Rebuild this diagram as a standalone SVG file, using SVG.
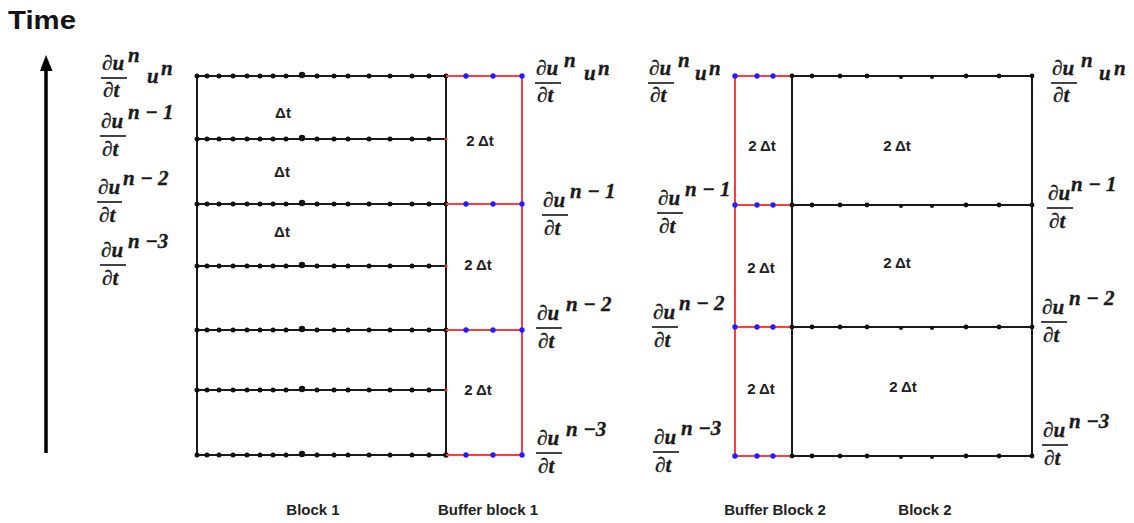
<svg xmlns="http://www.w3.org/2000/svg" width="1134" height="523" viewBox="0 0 1134 523">
<style>
.ln{stroke:#1a1a1a;stroke-width:2;fill:none}
.rd{stroke:#ff3b3b;stroke-width:2;fill:none}
.d{fill:#111}
.bd{fill:#1f1fff}
.m{font-family:"Liberation Serif","DejaVu Serif",serif;font-weight:bold;font-style:italic;font-size:21px;fill:#1a1a1a;stroke:#1a1a1a;stroke-width:0.35}
.bar{stroke:#222;stroke-width:1.7}
.t{font-family:"Liberation Sans",Arial,sans-serif;font-weight:bold;font-size:15px;fill:#222;text-anchor:middle}
.b{font-family:"Liberation Sans",Arial,sans-serif;font-weight:bold;font-size:15px;fill:#222;text-anchor:middle}
</style>
<rect width="1134" height="523" fill="#fff"/>

<g id="time-axis">
<text x="8" y="29" font-family="Liberation Sans, Arial, sans-serif" font-weight="bold" font-size="25" fill="#141414" textLength="68" lengthAdjust="spacingAndGlyphs">Time</text>
</g>

<g id="connectors">
<line x1="46" y1="68" x2="46" y2="453" stroke="#000" stroke-width="3.5"/>
<polygon points="46,55 40,71 52.5,71" fill="#000"/>
</g>

<g id="block1">
<line class="ln" x1="197" y1="76" x2="197" y2="455"/>
<line class="ln" x1="446" y1="76" x2="446" y2="455"/>
<g class="ln">
<line x1="197" y1="76" x2="446" y2="76"/>
<line x1="197" y1="139" x2="446" y2="139"/>
<line x1="197" y1="204" x2="446" y2="204"/>
<line x1="197" y1="266" x2="446" y2="266"/>
<line x1="197" y1="330" x2="446" y2="330"/>
<line x1="197" y1="390" x2="446" y2="390"/>
<line x1="197" y1="455" x2="446" y2="455"/>
</g>
<defs>
<g id="row1">
<circle cx="197" cy="0" r="2.5"/><circle cx="207" cy="0" r="2.5"/><circle cx="219" cy="0" r="2.5"/><circle cx="233" cy="0" r="2.5"/><circle cx="247" cy="0" r="2.5"/><circle cx="260" cy="0" r="2.5"/><circle cx="273" cy="0" r="2.5"/><circle cx="286" cy="0" r="2.5"/><circle cx="302" cy="-1" r="3.2"/><circle cx="317" cy="0" r="2.5"/><circle cx="334" cy="0" r="2.5"/><circle cx="348" cy="0" r="2.5"/><circle cx="369" cy="0" r="2.5"/><circle cx="390" cy="0" r="2.5"/><circle cx="412" cy="0" r="2.5"/><circle cx="429" cy="0" r="2.5"/>
</g>
<g id="row2">
<circle cx="792" cy="0" r="2.4"/><circle cx="812" cy="0" r="2.4"/><circle cx="840" cy="0" r="2.4"/><circle cx="867" cy="0" r="2.4"/><circle cx="901" cy="1" r="2"/><circle cx="932" cy="1" r="2"/><circle cx="966" cy="0" r="2.4"/><circle cx="999" cy="0" r="2.4"/><circle cx="1032" cy="0" r="2.4"/>
</g>
<g id="blue1"><circle cx="466" cy="0" r="2.7"/><circle cx="493" cy="0" r="2.7"/><circle cx="522" cy="0" r="2.7"/></g>
<g id="blue2"><circle cx="735" cy="0" r="2.7"/><circle cx="757" cy="0" r="2.7"/><circle cx="773" cy="0" r="2.7"/></g>
</defs>
<g class="d">
<use href="#row1" y="76"/><use href="#row1" y="139"/><use href="#row1" y="204"/><use href="#row1" y="266"/><use href="#row1" y="330"/><use href="#row1" y="390"/><use href="#row1" y="455"/>
<circle cx="446" cy="76" r="2.4"/><circle cx="446" cy="204" r="2.4"/><circle cx="446" cy="330" r="2.4"/><circle cx="446" cy="455" r="2.7"/>
</g>
<g fill="#e03030"><circle cx="446" cy="139" r="1.6"/><circle cx="446" cy="266" r="1.6"/><circle cx="446" cy="390" r="1.6"/></g>
<text class="t" x="283" y="118">Δt</text>
<text class="t" x="282" y="177">Δt</text>
<text class="t" x="282" y="237">Δt</text>
</g>

<g id="buffer1">
<line class="rd" x1="446" y1="76" x2="522" y2="76"/>
<line class="rd" x1="446" y1="204" x2="522" y2="204"/>
<line class="rd" x1="446" y1="330" x2="522" y2="330"/>
<line class="rd" x1="446" y1="455" x2="522" y2="455"/>
<line class="rd" x1="522" y1="76" x2="522" y2="455"/>
<g class="bd"><use href="#blue1" y="76"/><use href="#blue1" y="204"/><use href="#blue1" y="330"/><use href="#blue1" y="455"/></g>
<text class="t" x="480" y="146">2 Δt</text>
<text class="t" x="478" y="270">2 Δt</text>
<text class="t" x="478" y="395">2 Δt</text>
</g>

<g id="buffer2">
<line class="rd" x1="735" y1="76" x2="735" y2="456"/>
<line class="rd" x1="735" y1="76" x2="792" y2="76"/>
<line class="rd" x1="735" y1="205" x2="792" y2="205"/>
<line class="rd" x1="735" y1="327" x2="792" y2="327"/>
<line class="rd" x1="735" y1="456" x2="792" y2="456"/>
<g class="bd"><use href="#blue2" y="76"/><use href="#blue2" y="205"/><use href="#blue2" y="327"/><use href="#blue2" y="456"/></g>
<text class="t" x="762" y="151">2 Δt</text>
<text class="t" x="761" y="273">2 Δt</text>
<text class="t" x="761" y="394">2 Δt</text>
</g>

<g id="block2">
<line class="ln" x1="792" y1="76" x2="792" y2="456"/>
<line class="ln" x1="1032" y1="76" x2="1032" y2="456"/>
<line class="ln" x1="792" y1="76" x2="1032" y2="76"/>
<line class="ln" x1="792" y1="205" x2="1032" y2="205"/>
<line class="ln" x1="792" y1="327" x2="1032" y2="327"/>
<line class="ln" x1="792" y1="456" x2="1032" y2="456"/>
<g class="d"><use href="#row2" y="76"/><use href="#row2" y="205"/><use href="#row2" y="327"/><use href="#row2" y="456"/></g>
<text class="t" x="897" y="151">2 Δt</text>
<text class="t" x="897" y="268">2 Δt</text>
<text class="t" x="903" y="392">2 Δt</text>
</g>

<g id="labels-left">
<g transform="translate(101,78)"><text class="m" x="1" y="-8">∂u</text><text class="m" x="27" y="-16">n</text><line class="bar" x1="0" y1="0" x2="26" y2="0"/><text class="m" x="2" y="19">∂t</text><text class="m" x="46" y="5">u</text><text class="m" x="60" y="-3">n</text></g>
<g transform="translate(100,136)"><text class="m" x="1" y="-8">∂u</text><text class="m" x="28" y="-17">n − 1</text><line class="bar" x1="0" y1="0" x2="26" y2="0"/><text class="m" x="2" y="20">∂t</text></g>
<g transform="translate(97,202)"><text class="m" x="1" y="-8">∂u</text><text class="m" x="26" y="-17">n − 2</text><line class="bar" x1="0" y1="0" x2="25" y2="0"/><text class="m" x="2" y="20">∂t</text></g>
<g transform="translate(100,265)"><text class="m" x="1" y="-8">∂u</text><text class="m" x="28" y="-17">n −3</text><line class="bar" x1="0" y1="0" x2="26" y2="0"/><text class="m" x="2" y="20">∂t</text></g>
</g>

<g id="labels-buffer1">
<g transform="translate(535,83)"><text class="m" x="1" y="-8">∂u</text><text class="m" x="29" y="-16">n</text><line class="bar" x1="0" y1="0" x2="26" y2="0"/><text class="m" x="2" y="19">∂t</text><text class="m" x="49" y="-3">u</text><text class="m" x="63" y="-8">n</text></g>
<g transform="translate(542,215)"><text class="m" x="1" y="-8">∂u</text><text class="m" x="28" y="-17">n − 1</text><line class="bar" x1="0" y1="0" x2="26" y2="0"/><text class="m" x="2" y="20">∂t</text></g>
<g transform="translate(536,328)"><text class="m" x="1" y="-8">∂u</text><text class="m" x="30" y="-17">n − 2</text><line class="bar" x1="0" y1="0" x2="26" y2="0"/><text class="m" x="2" y="20">∂t</text></g>
<g transform="translate(536,453)"><text class="m" x="1" y="-8">∂u</text><text class="m" x="30" y="-17">n −3</text><line class="bar" x1="0" y1="0" x2="26" y2="0"/><text class="m" x="2" y="20">∂t</text></g>
</g>

<g id="labels-buffer2">
<g transform="translate(648,83)"><text class="m" x="1" y="-8">∂u</text><text class="m" x="30" y="-16">n</text><line class="bar" x1="0" y1="0" x2="26" y2="0"/><text class="m" x="2" y="19">∂t</text><text class="m" x="47" y="-3">u</text><text class="m" x="61" y="-8">n</text></g>
<g transform="translate(657,213)"><text class="m" x="1" y="-8">∂u</text><text class="m" x="28" y="-17">n − 1</text><line class="bar" x1="0" y1="0" x2="26" y2="0"/><text class="m" x="2" y="20">∂t</text></g>
<g transform="translate(652,327)"><text class="m" x="1" y="-8">∂u</text><text class="m" x="27" y="-17">n − 2</text><line class="bar" x1="0" y1="0" x2="26" y2="0"/><text class="m" x="2" y="20">∂t</text></g>
<g transform="translate(653,452)"><text class="m" x="1" y="-8">∂u</text><text class="m" x="28" y="-17">n −3</text><line class="bar" x1="0" y1="0" x2="26" y2="0"/><text class="m" x="2" y="20">∂t</text></g>
</g>

<g id="labels-block2">
<g transform="translate(1051,83)"><text class="m" x="1" y="-8">∂u</text><text class="m" x="30" y="-16">n</text><line class="bar" x1="0" y1="0" x2="26" y2="0"/><text class="m" x="2" y="19">∂t</text><text class="m" x="48" y="-3">u</text><text class="m" x="63" y="-8">n</text></g>
<g transform="translate(1047,208)"><text class="m" x="1" y="-8">∂u</text><text class="m" x="24" y="-17">n − 1</text><line class="bar" x1="0" y1="0" x2="26" y2="0"/><text class="m" x="2" y="20">∂t</text></g>
<g transform="translate(1041,322)"><text class="m" x="1" y="-8">∂u</text><text class="m" x="28" y="-17">n − 2</text><line class="bar" x1="0" y1="0" x2="26" y2="0"/><text class="m" x="2" y="20">∂t</text></g>
<g transform="translate(1042,445)"><text class="m" x="1" y="-8">∂u</text><text class="m" x="27" y="-17">n −3</text><line class="bar" x1="0" y1="0" x2="26" y2="0"/><text class="m" x="2" y="20">∂t</text></g>
</g>

<g id="block-names">
<text class="b" x="313" y="515">Block 1</text>
<text class="b" x="488" y="515">Buffer block 1</text>
<text class="b" x="775" y="515">Buffer Block 2</text>
<text class="b" x="925" y="515">Block 2</text>
</g>
</svg>
